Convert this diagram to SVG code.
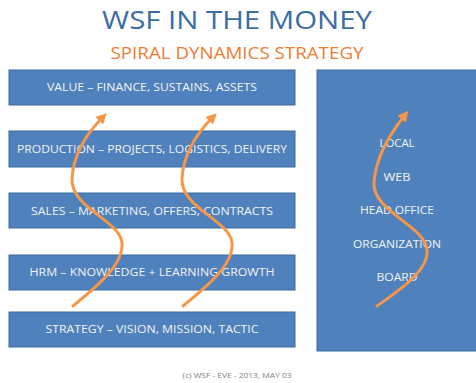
<svg xmlns="http://www.w3.org/2000/svg" width="476" height="383" viewBox="0 0 476 383">
<style>
.box{fill:#4f81bd;stroke:#3d6a9e;stroke-width:1}
.bt{font-family:"Open Sans","Liberation Sans",sans-serif;font-size:11px;fill:#f2f2f2;text-anchor:middle}
.arr{fill:none;stroke:#f79646;stroke-width:3;stroke-linecap:round;marker-end:url(#ah)}
</style>
<defs>
<marker id="ah" viewBox="0 0 10 10" refX="5" refY="5" markerWidth="3.6" markerHeight="3.6" orient="auto" markerUnits="strokeWidth">
<path d="M0,0 L10,5 L0,10 z" fill="#f79646"/>
</marker>
</defs>
<rect width="476" height="383" fill="#ffffff"/>
<text x="237" y="29" font-family="Open Sans,Liberation Sans,sans-serif" font-size="26" fill="#3b6ca6" text-anchor="middle" textLength="270" lengthAdjust="spacingAndGlyphs">WSF IN THE MONEY</text>
<text x="237" y="59" font-family="Open Sans,Liberation Sans,sans-serif" font-size="16" fill="#ed7d31" text-anchor="middle" textLength="253" lengthAdjust="spacingAndGlyphs">SPIRAL DYNAMICS STRATEGY</text>
<g id="value"><rect class="box" x="9" y="70" width="286" height="35"/><text class="bt" x="152" y="91" textLength="210" lengthAdjust="spacingAndGlyphs">VALUE – FINANCE, SUSTAINS, ASSETS</text></g>
<g id="production"><rect class="box" x="9" y="131" width="286" height="36"/><text class="bt" x="152" y="153" textLength="270" lengthAdjust="spacingAndGlyphs">PRODUCTION – PROJECTS, LOGISTICS, DELIVERY</text></g>
<g id="sales"><rect class="box" x="9" y="193" width="286" height="35"/><text class="bt" x="152" y="215" textLength="242" lengthAdjust="spacingAndGlyphs">SALES – MARKETING, OFFERS, CONTRACTS</text></g>
<g id="hrm"><rect class="box" x="9" y="255" width="286" height="35"/><text class="bt" x="152" y="276" textLength="245" lengthAdjust="spacingAndGlyphs">HRM – KNOWLEDGE + LEARNING GROWTH</text></g>
<g id="strategy"><rect class="box" x="9" y="312" width="286" height="35"/><text class="bt" x="152" y="333" textLength="213" lengthAdjust="spacingAndGlyphs">STRATEGY – VISION, MISSION, TACTIC</text></g>
<g id="levels"><rect class="box" x="317" y="70" width="160" height="281"/>
<text class="bt" x="397" y="147" textLength="35" lengthAdjust="spacingAndGlyphs">LOCAL</text>
<text class="bt" x="397" y="181" textLength="27" lengthAdjust="spacingAndGlyphs">WEB</text>
<text class="bt" x="397" y="214" textLength="74" lengthAdjust="spacingAndGlyphs">HEAD OFFICE</text>
<text class="bt" x="397" y="248" textLength="88" lengthAdjust="spacingAndGlyphs">ORGANIZATION</text>
<text class="bt" x="397" y="281" textLength="41" lengthAdjust="spacingAndGlyphs">BOARD</text>
</g>
<g id="connectors">
<path class="arr" d="M73,306 C95,288 124,265 122,243 C120,220 70,208 72,178 C74,150 90,130 103,117"/>
<path class="arr" d="M183,306 C205,288 234,265 232,243 C230,220 180,208 182,178 C184,150 200,130 213,117"/>
<path class="arr" d="M377,306 C400,290 429,270 427,250 C425,225 372,212 374,182 C376,155 393,130 405,115"/>
</g>
<text x="237" y="378" font-family="Open Sans,Liberation Sans,sans-serif" font-size="7" fill="#7f7f7f" text-anchor="middle" textLength="109" lengthAdjust="spacingAndGlyphs">(c) WSF - EVE - 2013, MAY 03</text>
</svg>
